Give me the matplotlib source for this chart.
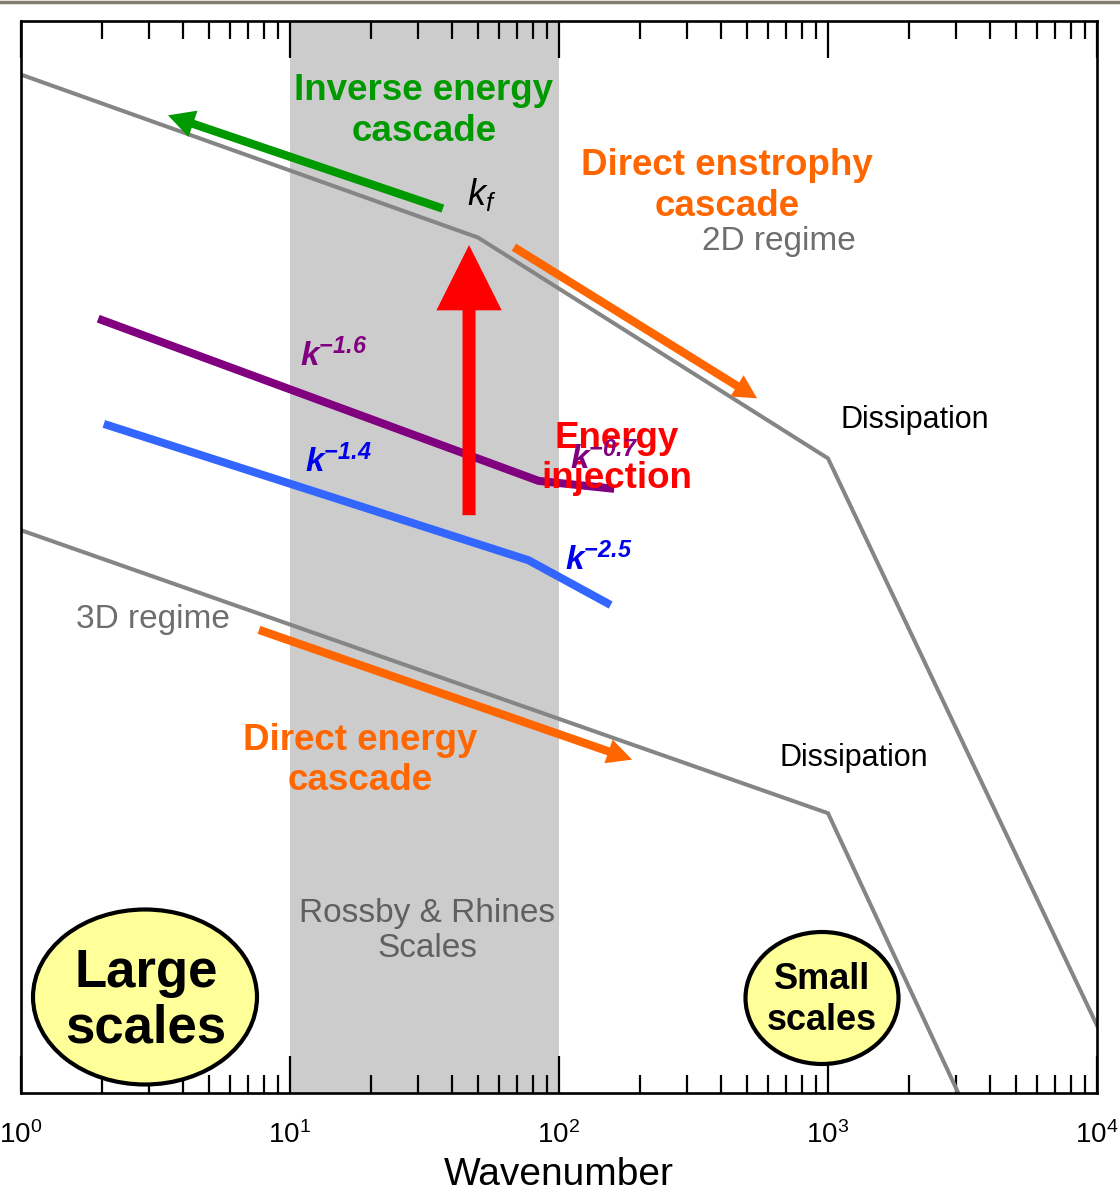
import matplotlib
matplotlib.use("Agg")
import matplotlib.pyplot as plt
from matplotlib.patches import Ellipse, FancyArrowPatch
from matplotlib.lines import Line2D

plt.rcParams['font.family'] = ['Liberation Sans', 'DejaVu Sans']
plt.rcParams['mathtext.fontset'] = 'custom'
plt.rcParams['mathtext.rm'] = 'Liberation Sans'
plt.rcParams['mathtext.it'] = 'Liberation Sans:italic'
plt.rcParams['mathtext.bf'] = 'Liberation Sans:bold'
plt.rcParams['mathtext.bfit'] = 'Liberation Sans:bold:italic'

# ---------------- data ----------------
k_2d = [1, 50, 1000, 10000]
E_2d = [9.50, 7.98, 5.92, 0.63]
k_3d = [1, 1000, 3050]
E_3d = [5.25, 2.61, 0.0]
k_purple = [2.0, 84, 155]
E_purple = [7.21, 5.71, 5.64]
k_blue = [2.1, 77, 151]
E_blue = [6.23, 4.97, 4.57]
rossby_band = [10, 100]
# arrows: (k_tail, E_tail, k_head, E_head)
arrow_inverse = (37.0, 8.25, 3.52, 9.12)
arrow_enstrophy = (68, 7.89, 545, 6.48)
arrow_energy3d = (7.67, 4.32, 187, 3.11)
arrow_injection = (46.3, 5.39, 46.3, 7.91)
xticks = [1, 10, 100, 1000, 10000]

fig = plt.figure(figsize=(11.2, 11.99), dpi=100)
ax = fig.add_axes([21/1120, 1 - 1093/1199, (1097-21)/1120, (1093-21)/1199])
ax.set_xscale('log')
ax.set_xlim(1, 1e4)
ax.set_ylim(0, 10)
ax.set_yticks([])

ax.axvspan(rossby_band[0], rossby_band[1], color='#cccccc', lw=0, zorder=0)

gray = '#858585'
ax.plot(k_2d, E_2d, color=gray, lw=2.9, zorder=2, solid_joinstyle='miter')
ax.plot(k_3d, E_3d, color=gray, lw=2.9, zorder=2, solid_joinstyle='miter')
ax.plot(k_purple, E_purple, color='#800080', lw=5.8, zorder=3)
ax.plot(k_blue, E_blue, color='#3366ff', lw=5.8, zorder=3)


def arrow(a, color, hl, hw, tw, z=4):
    p = FancyArrowPatch((a[0], a[1]), (a[2], a[3]),
                        arrowstyle=f"simple,head_length={hl},head_width={hw},tail_width={tw}",
                        mutation_scale=1, color=color, lw=0, shrinkA=0, shrinkB=0, zorder=z)
    ax.add_patch(p)


arrow(arrow_inverse, '#009900', 19, 20, 6.0)
arrow(arrow_enstrophy, '#ff6600', 17, 18, 6.0)
arrow(arrow_energy3d, '#ff6600', 18, 18, 6.0)
arrow(arrow_injection, '#ff0000', 47, 47, 9.4, z=5)

# spines / ticks
for s in ax.spines.values():
    s.set_linewidth(1.9)
ax.set_xticks(xticks)
ax.tick_params(axis='x', which='both', direction='in', top=True, bottom=True,
               labelsize=20, pad=20)
ax.tick_params(axis='x', which='major', length=26.5, width=1.6)
ax.tick_params(axis='x', which='minor', length=13, width=1.6)
ax.set_xlabel('Wavenumber', fontsize=28, labelpad=6)

# texts
bold = dict(fontweight='bold', ha='center', va='center', linespacing=1.2)
ax.text(31.5, 9.16, 'Inverse energy\ncascade', color='#009900', fontsize=26.5, zorder=6, **bold)
ax.text(421, 8.46, 'Direct enstrophy\ncascade', color='#ff6600', fontsize=26.5, zorder=6, **bold)
ax.text(164, 5.92, 'Energy\ninjection', color='#ff0000', fontsize=26.5, zorder=6, **bold)
ax.text(18.2, 3.10, 'Direct energy\ncascade', color='#ff6600', fontsize=26.5, zorder=6, **bold)

ax.text(658, 7.94, '2D regime', color='#6e6e6e', fontsize=24, ha='center', va='center')
ax.text(3.1, 4.42, '3D regime', color='#6e6e6e', fontsize=24, ha='center', va='center')
ax.text(32.3, 1.51, 'Rossby & Rhines\nScales', color='#606060', fontsize=24,
        ha='center', va='center', linespacing=1.15)
ax.text(2105, 6.28, 'Dissipation', color='black', fontsize=22, ha='center', va='center')
ax.text(1250, 3.125, 'Dissipation', color='black', fontsize=22, ha='center', va='center')

ax.text(51.7, 8.38, r'$k_f$', color='black', fontsize=26, ha='center', va='center')
ax.text(10.9, 6.88, r'$\mathbfit{k^{-1.6}}$', color='#800080', fontsize=24, ha='left', va='center')
ax.text(11.4, 5.89, r'$\mathbfit{k^{-1.4}}$', color='#0000ee', fontsize=24, ha='left', va='center')
ax.text(110, 5.92, r'$\mathbfit{k^{-0.7}}$', color='#800080', fontsize=24, ha='left', va='center', zorder=7)
ax.text(105, 4.97, r'$\mathbfit{k^{-2.5}}$', color='#0000ee', fontsize=24, ha='left', va='center')

# scale bubbles
e1 = Ellipse(((145-21)/1076, (1093-997)/1072), 224/1076, 175/1072, transform=ax.transAxes,
             facecolor='#ffff99', edgecolor='black', lw=3, zorder=8, clip_on=False)
ax.add_patch(e1)
ax.text((146-21)/1076, (1093-1001)/1072, 'Large\nscales', transform=ax.transAxes, fontsize=38,
        fontweight='bold', ha='center', va='center', linespacing=1.15, zorder=9)
e2 = Ellipse(((822-21)/1076, (1093-998)/1072), 153/1076, 132/1072, transform=ax.transAxes,
             facecolor='#ffff99', edgecolor='black', lw=3, zorder=8, clip_on=False)
ax.add_patch(e2)
ax.text((822-21)/1076, (1093-1000)/1072, 'Small\nscales', transform=ax.transAxes, fontsize=26,
        fontweight='bold', ha='center', va='center', linespacing=1.2, zorder=9)

fig.add_artist(Line2D([0, 1], [1 - 1.5/1199, 1 - 1.5/1199], transform=fig.transFigure,
                      color='#857e70', lw=2.5))

fig.savefig('out.png', dpi=100)
